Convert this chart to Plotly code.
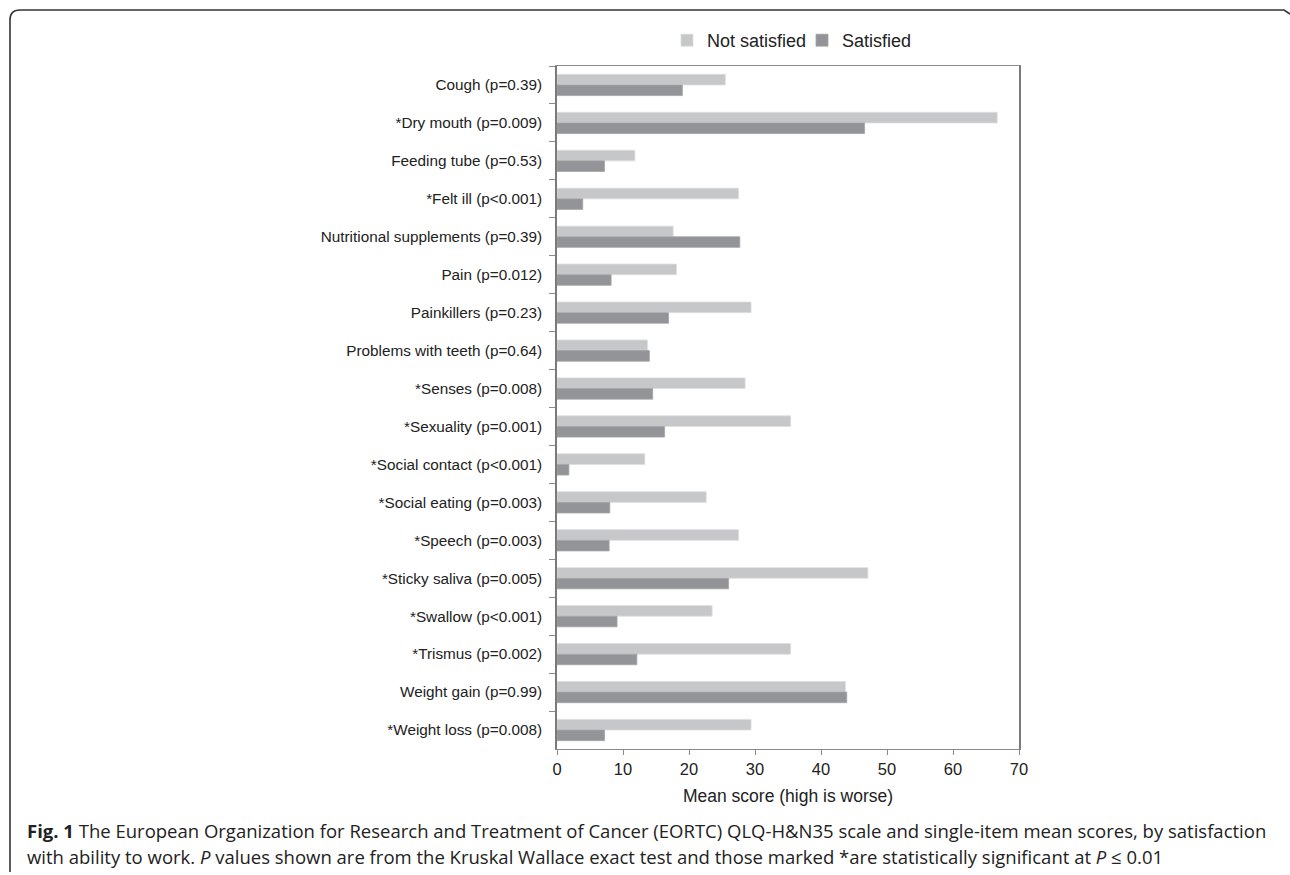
import plotly.graph_objects as go

categories = [
    "Cough (p=0.39)",
    "*Dry mouth (p=0.009)",
    "Feeding tube (p=0.53)",
    "*Felt ill (p<0.001)",
    "Nutritional supplements (p=0.39)",
    "Pain (p=0.012)",
    "Painkillers (p=0.23)",
    "Problems with teeth (p=0.64)",
    "*Senses (p=0.008)",
    "*Sexuality (p=0.001)",
    "*Social contact (p<0.001)",
    "*Social eating (p=0.003)",
    "*Speech (p=0.003)",
    "*Sticky saliva (p=0.005)",
    "*Swallow (p<0.001)",
    "*Trismus (p=0.002)",
    "Weight gain (p=0.99)",
    "*Weight loss (p=0.008)",
]
not_satisfied = [25.5, 66.7, 11.8, 27.5, 17.6, 18.1, 29.4, 13.7, 28.5, 35.4,
                 13.3, 22.6, 27.5, 47.1, 23.5, 35.4, 43.7, 29.4]
satisfied = [19.0, 46.6, 7.2, 3.9, 27.7, 8.2, 16.9, 14.0, 14.5, 16.3,
             1.8, 8.0, 7.9, 26.0, 9.1, 12.1, 43.9, 7.2]
x_ticks = [0, 10, 20, 30, 40, 50, 60, 70]

W, H = 1290, 875
pl, pr, pt, pb = 557, 271, 66, 126
pw, ph = W - pl - pr, H - pt - pb


def px(x):
    return (x - pl) / pw


def py(y):
    return (H - pb - y) / ph


fig = go.Figure()
fig.add_trace(go.Bar(y=categories, x=not_satisfied, orientation="h", name="Not satisfied",
                     marker=dict(color="#c6c7c9", line=dict(color="#dcdddf", width=0.8))))
fig.add_trace(go.Bar(y=categories, x=satisfied, orientation="h", name="Satisfied",
                     marker=dict(color="#939498", line=dict(color="#a3a4a8", width=0.8))))

fig.update_layout(
    width=W, height=H,
    margin=dict(l=pl, r=pr, t=pt, b=pb, autoexpand=False),
    paper_bgcolor="white", plot_bgcolor="white",
    barmode="group", bargap=0.44, bargroupgap=0,
    font=dict(family="Liberation Sans, Arial, sans-serif", size=15, color="#222"),
    showlegend=True,
    legend=dict(orientation="h", x=667 / W, xref="container", y=1 - 22 / H, yref="container",
                xanchor="left", yanchor="top", font=dict(size=18, color="#222"),
                itemwidth=30, entrywidth=90, traceorder="normal", bgcolor="rgba(0,0,0,0)"),
)
fig.update_xaxes(range=[0, 70], tickvals=x_ticks, ticks="outside", ticklen=5,
                 tickcolor="#8a8a8a", showline=True, linecolor="#8a8a8a", linewidth=1.2,
                 mirror=True, showgrid=False, zeroline=False,
                 tickfont=dict(size=16.5, color="#222"),
                 title=dict(text="Mean score (high is worse)", font=dict(size=17.5, color="#222"),
                            standoff=12))
fig.update_yaxes(autorange="reversed", type="category", tickson="boundaries", ticks="outside",
                 ticklen=6, tickcolor="#8a8a8a", showline=True, linecolor="#7a7a7a",
                 linewidth=1.5, mirror=True, showgrid=False,
                 tickfont=dict(size=15.3, color="#222"), ticklabelstandoff=10)

# Figure frame (rounded corner top-left)
path = (f"M {px(10)},{py(872)} L {px(10)},{py(20)} Q {px(10)},{py(10)} {px(20)},{py(10)} "
        f"L {px(1284)},{py(10)} L {px(1290)},{py(14)}")
fig.add_shape(type="path", path=path, xref="paper", yref="paper",
              line=dict(color="#333", width=1.6), layer="above")

cap1 = ("<b>Fig. 1</b> The European Organization for Research and Treatment of Cancer (EORTC) "
        "QLQ-H&N35 scale and single-item mean scores, by satisfaction")
cap2 = ("with ability to work. <i>P</i> values shown are from the Kruskal Wallace exact test "
        "and those marked *are statistically significant at <i>P</i> ≤ 0.01")
fig.add_annotation(text=cap1, xref="paper", yref="paper", x=px(25), y=py(830),
                   xanchor="left", yanchor="middle", showarrow=False,
                   font=dict(family="Open Sans, sans-serif", size=18.5, color="#222"))
fig.add_annotation(text=cap2, xref="paper", yref="paper", x=px(25), y=py(857),
                   xanchor="left", yanchor="middle", showarrow=False,
                   font=dict(family="Open Sans, sans-serif", size=18.5, color="#222"))

fig.write_html("out.html", config={"displayModeBar": False},
               post_script="document.body.style.margin='0';document.body.style.overflow='hidden';")
